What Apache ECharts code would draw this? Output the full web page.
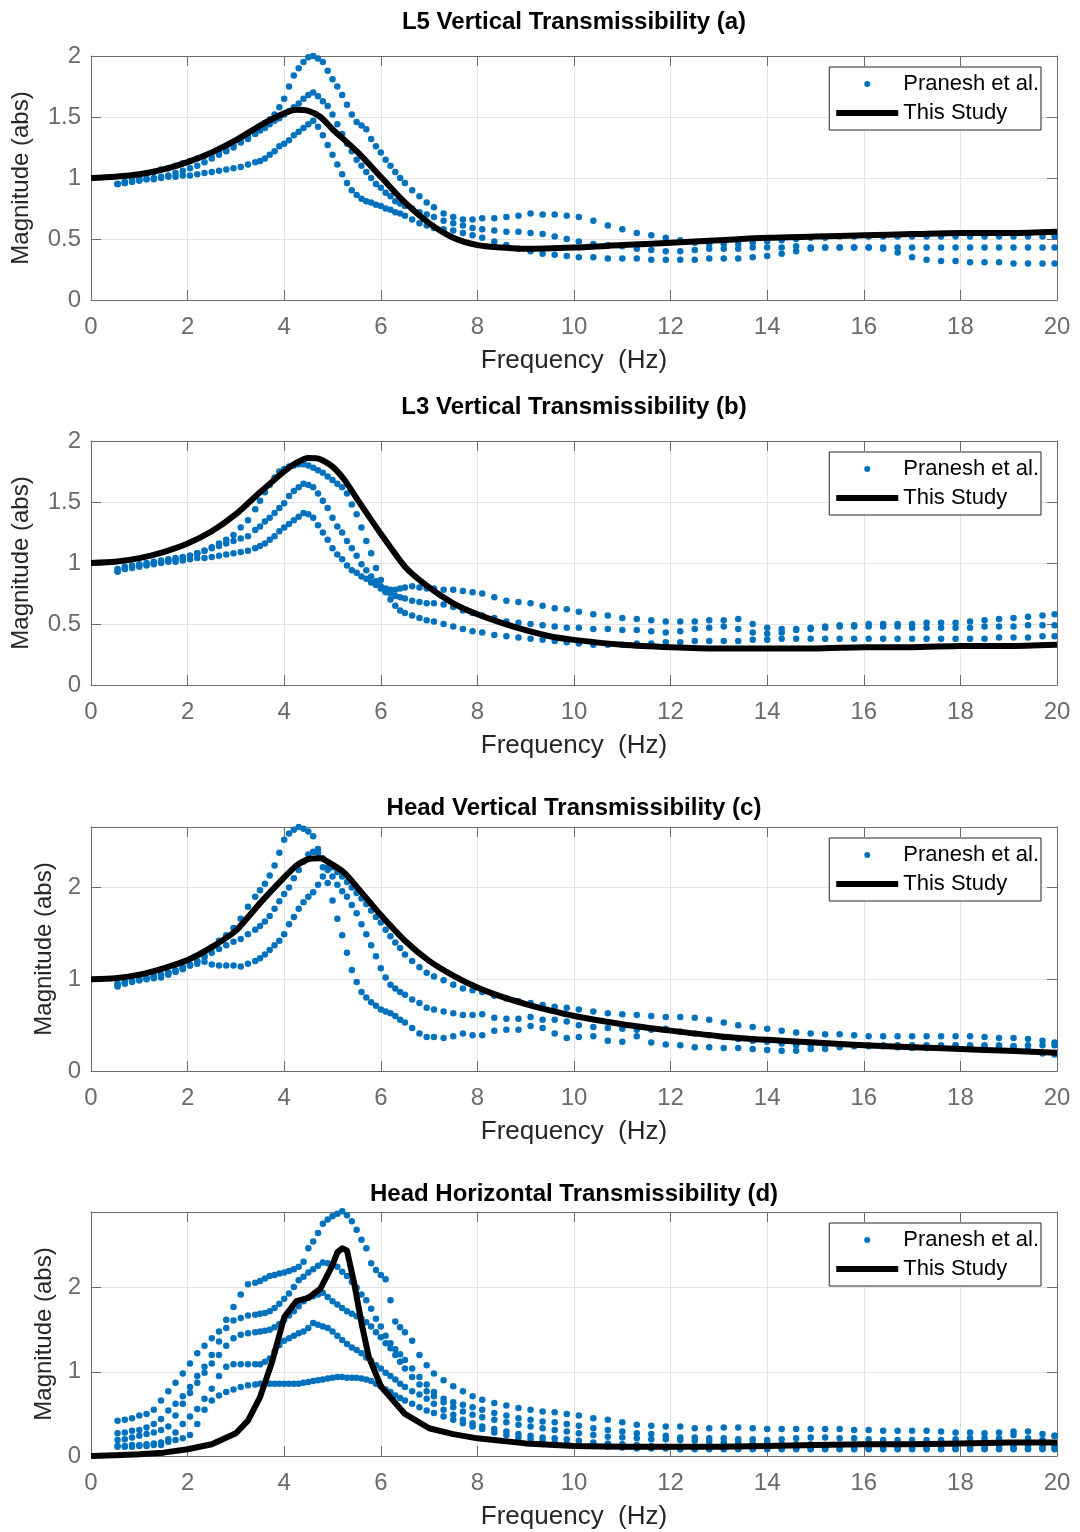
<!DOCTYPE html>
<html>
<head>
<meta charset="utf-8">
<title>Transmissibility comparison</title>
<script src="https://cdn.jsdelivr.net/npm/echarts@6.0.0/dist/echarts.min.js"></script>
<style>
  html, body { margin: 0; padding: 0; background: #fff; }
  #chart { width: 1080px; height: 1532px; }
</style>
</head>
<body>
<div id="chart"></div>
<script>
// digitised frequency grid (Hz) shared by the Pranesh et al. dot curves
const freq = [
  0.55, 0.7, 0.85, 1.0, 1.15, 1.3, 1.45, 1.6, 1.75, 1.9,
  2.05, 2.2, 2.35, 2.5, 2.65, 2.8, 2.95, 3.1, 3.25, 3.4,
  3.5, 3.6, 3.7, 3.8, 3.9, 4.0, 4.1, 4.2, 4.3, 4.4,
  4.5, 4.6, 4.7, 4.8, 4.9, 5.0, 5.1, 5.2, 5.3, 5.4,
  5.5, 5.6, 5.7, 5.8, 5.9, 6.0, 6.1, 6.2, 6.3, 6.4,
  6.5, 6.65, 6.8, 6.95, 7.1, 7.3, 7.5, 7.7, 7.9, 8.1,
  8.35, 8.6, 8.85, 9.1, 9.35, 9.6, 9.85, 10.1, 10.4, 10.7,
  11.0, 11.3, 11.6, 11.9, 12.2, 12.5, 12.8, 13.1, 13.4, 13.7,
  14.0, 14.3, 14.6, 14.9, 15.2, 15.5, 15.8, 16.1, 16.4, 16.7,
  17.0, 17.3, 17.6, 17.9, 18.2, 18.5, 18.8, 19.1, 19.4, 19.7,
  19.95
];

// (a) L5 vertical - Pranesh et al.
const a1 = [
  0.95, 0.97, 0.99, 1.01, 1.03, 1.05, 1.07, 1.08, 1.10, 1.12,
  1.14, 1.16, 1.18, 1.20, 1.22, 1.24, 1.27, 1.30, 1.34, 1.38,
  1.41, 1.45, 1.48, 1.52, 1.58, 1.65, 1.75, 1.84, 1.90, 1.95,
  1.99, 2.00, 1.98, 1.95, 1.88, 1.81, 1.75, 1.68, 1.60, 1.52,
  1.46, 1.43, 1.40, 1.32, 1.26, 1.21, 1.15, 1.10, 1.05, 1.00,
  0.96, 0.90, 0.85, 0.80, 0.76, 0.71, 0.68, 0.66, 0.66, 0.67,
  0.67, 0.68, 0.69, 0.71, 0.70, 0.70, 0.69, 0.68, 0.65, 0.61,
  0.58, 0.55, 0.53, 0.51, 0.49, 0.47, 0.46, 0.46, 0.46, 0.47,
  0.48, 0.49, 0.50, 0.51, 0.51, 0.52, 0.52, 0.52, 0.52, 0.52,
  0.52, 0.52, 0.52, 0.52, 0.52, 0.52, 0.52, 0.52, 0.52, 0.52,
  0.52
];
const a2 = [
  0.95, 0.96, 0.97, 0.98, 0.99, 1.00, 1.01, 1.02, 1.04, 1.06,
  1.08, 1.10, 1.13, 1.16, 1.19, 1.22, 1.25, 1.29, 1.32, 1.36,
  1.39, 1.41, 1.44, 1.47, 1.49, 1.52, 1.55, 1.58, 1.61, 1.65,
  1.68, 1.70, 1.67, 1.63, 1.59, 1.52, 1.44, 1.36, 1.28, 1.22,
  1.15, 1.10, 1.05, 1.00, 0.95, 0.92, 0.88, 0.85, 0.81, 0.79,
  0.77, 0.75, 0.72, 0.70, 0.68, 0.65, 0.63, 0.61, 0.59, 0.58,
  0.57, 0.56, 0.56, 0.55, 0.54, 0.52, 0.50, 0.48, 0.46, 0.45,
  0.44, 0.42, 0.41, 0.40, 0.40, 0.41, 0.42, 0.42, 0.42, 0.43,
  0.43, 0.43, 0.44, 0.43, 0.43, 0.43, 0.43, 0.43, 0.43, 0.43,
  0.43, 0.43, 0.43, 0.43, 0.43, 0.43, 0.43, 0.43, 0.43, 0.43,
  0.43
];
const a3 = [
  0.95, 0.96, 0.97, 0.98, 0.99, 0.99, 1.00, 1.01, 1.01, 1.02,
  1.02, 1.03, 1.04, 1.05, 1.06, 1.07, 1.08, 1.09, 1.11, 1.13,
  1.14, 1.16, 1.19, 1.22, 1.26, 1.28, 1.31, 1.35, 1.38, 1.41,
  1.44, 1.47, 1.42, 1.35, 1.27, 1.19, 1.11, 1.03, 0.96, 0.90,
  0.86, 0.83, 0.81, 0.80, 0.78, 0.77, 0.75, 0.74, 0.72, 0.71,
  0.69, 0.66, 0.63, 0.61, 0.59, 0.58, 0.57, 0.55, 0.53, 0.51,
  0.48, 0.45, 0.42, 0.40, 0.38, 0.37, 0.36, 0.35, 0.35, 0.34,
  0.34, 0.34, 0.33, 0.33, 0.33, 0.33, 0.34, 0.34, 0.34, 0.35,
  0.36, 0.38, 0.40, 0.42, 0.43, 0.43, 0.43, 0.43, 0.42, 0.39,
  0.35, 0.33, 0.32, 0.32, 0.31, 0.31, 0.31, 0.30, 0.30, 0.30,
  0.30
];

// (b) L3 vertical - Pranesh et al.
const b1 = [
  0.93, 0.95, 0.97, 0.98, 0.99, 1.00, 1.01, 1.02, 1.03, 1.04,
  1.06, 1.08, 1.10, 1.13, 1.16, 1.19, 1.23, 1.29, 1.35, 1.44,
  1.51, 1.58, 1.64, 1.70, 1.75, 1.77, 1.79, 1.80, 1.81, 1.81,
  1.80, 1.78, 1.76, 1.74, 1.71, 1.68, 1.65, 1.62, 1.57, 1.48,
  1.40, 1.29, 1.18, 1.08, 0.96, 0.86, 0.76, 0.70, 0.65, 0.61,
  0.59, 0.57, 0.55, 0.53, 0.52, 0.50, 0.48, 0.46, 0.44, 0.43,
  0.41, 0.40, 0.39, 0.38, 0.37, 0.36, 0.35, 0.34, 0.33, 0.33,
  0.33, 0.34, 0.34, 0.35, 0.35, 0.36, 0.36, 0.36, 0.36, 0.37,
  0.37, 0.38, 0.38, 0.38, 0.38, 0.38, 0.38, 0.38, 0.38, 0.38,
  0.38, 0.38, 0.38, 0.38, 0.38, 0.38, 0.39, 0.39, 0.39, 0.40,
  0.40
];
const b2 = [
  0.95, 0.97, 0.98, 0.99, 1.00, 1.01, 1.02, 1.03, 1.04, 1.05,
  1.06, 1.08, 1.10, 1.12, 1.14, 1.16, 1.18, 1.20, 1.22, 1.27,
  1.30, 1.34, 1.37, 1.41, 1.45, 1.49, 1.55, 1.59, 1.62, 1.65,
  1.64, 1.62, 1.57, 1.51, 1.45, 1.37, 1.30, 1.25, 1.18, 1.12,
  1.06, 0.99, 0.94, 0.89, 0.85, 0.81, 0.79, 0.78, 0.78, 0.79,
  0.80, 0.81, 0.80, 0.79, 0.79, 0.78, 0.78, 0.77, 0.76, 0.75,
  0.72, 0.69, 0.68, 0.67, 0.65, 0.63, 0.62, 0.60, 0.58, 0.57,
  0.55, 0.54, 0.53, 0.52, 0.52, 0.52, 0.53, 0.53, 0.54, 0.50,
  0.47, 0.46, 0.46, 0.47, 0.48, 0.49, 0.49, 0.50, 0.50, 0.50,
  0.50, 0.51, 0.51, 0.51, 0.52, 0.53, 0.54, 0.55, 0.56, 0.57,
  0.58
];
const b3 = [
  0.93, 0.95, 0.96, 0.97, 0.98, 0.99, 1.00, 1.01, 1.01, 1.02,
  1.03, 1.04, 1.04, 1.05, 1.06, 1.07, 1.08, 1.09, 1.10, 1.12,
  1.14, 1.16, 1.19, 1.22, 1.26, 1.29, 1.32, 1.35, 1.38, 1.41,
  1.40, 1.37, 1.31, 1.25, 1.19, 1.12, 1.07, 1.03, 0.98, 0.94,
  0.92, 0.89, 0.87, 0.84, 0.82, 0.79, 0.77, 0.75, 0.73, 0.72,
  0.71, 0.69, 0.68, 0.67, 0.67, 0.66, 0.64, 0.61, 0.59, 0.57,
  0.55, 0.52, 0.51, 0.50, 0.49, 0.48, 0.47, 0.47, 0.46, 0.46,
  0.45, 0.45, 0.44, 0.43, 0.44, 0.46, 0.47, 0.48, 0.46, 0.43,
  0.42, 0.43, 0.45, 0.46, 0.47, 0.48, 0.48, 0.48, 0.48, 0.48,
  0.47, 0.47, 0.47, 0.47, 0.47, 0.48, 0.48, 0.48, 0.49, 0.49,
  0.49
];

// (c) head vertical - Pranesh et al.
const c1 = [
  0.92, 0.95, 0.98, 0.99, 1.00, 1.01, 1.02, 1.05, 1.08, 1.11,
  1.15, 1.20, 1.26, 1.35, 1.42, 1.48, 1.56, 1.66, 1.79, 1.90,
  1.97, 2.04, 2.13, 2.24, 2.38, 2.52, 2.59, 2.63, 2.66, 2.64,
  2.61, 2.56, 2.42, 2.22, 2.05, 1.86, 1.66, 1.48, 1.29, 1.10,
  0.97, 0.86, 0.80, 0.75, 0.71, 0.67, 0.65, 0.63, 0.60, 0.56,
  0.53, 0.47, 0.41, 0.37, 0.37, 0.36, 0.38, 0.41, 0.39, 0.39,
  0.44, 0.45, 0.45, 0.49, 0.47, 0.41, 0.36, 0.37, 0.38, 0.33,
  0.32, 0.38, 0.31, 0.29, 0.28, 0.26, 0.26, 0.25, 0.25, 0.24,
  0.23, 0.22, 0.22, 0.24, 0.24, 0.26, 0.27, 0.27, 0.27, 0.26,
  0.25, 0.25, 0.26, 0.28, 0.28, 0.28, 0.28, 0.27, 0.23, 0.19,
  0.18
];
const c2 = [
  0.94, 0.96, 0.97, 0.99, 1.01, 1.03, 1.05, 1.07, 1.10, 1.13,
  1.16, 1.19, 1.24, 1.29, 1.33, 1.37, 1.41, 1.44, 1.49, 1.54,
  1.58, 1.63, 1.69, 1.77, 1.85, 1.93, 2.00, 2.10, 2.19, 2.28,
  2.36, 2.39, 2.38, 2.32, 2.22, 2.12, 2.03, 1.96, 1.90, 1.81,
  1.72, 1.60, 1.49, 1.37, 1.25, 1.12, 1.02, 0.94, 0.90, 0.86,
  0.83, 0.78, 0.74, 0.69, 0.67, 0.65, 0.63, 0.61, 0.61, 0.62,
  0.58, 0.57, 0.57, 0.59, 0.56, 0.56, 0.54, 0.50, 0.48, 0.47,
  0.46, 0.45, 0.45, 0.46, 0.43, 0.41, 0.39, 0.37, 0.35, 0.33,
  0.32, 0.30, 0.28, 0.28, 0.28, 0.28, 0.28, 0.28, 0.28, 0.28,
  0.28, 0.28, 0.28, 0.28, 0.27, 0.27, 0.27, 0.27, 0.28, 0.28,
  0.28
];
const c3 = [
  0.95, 0.97, 0.98, 1.00, 1.01, 1.03, 1.05, 1.07, 1.09, 1.12,
  1.15, 1.17, 1.19, 1.16, 1.15, 1.15, 1.15, 1.14, 1.17, 1.20,
  1.23, 1.27, 1.32, 1.37, 1.42, 1.49, 1.60, 1.68, 1.77, 1.84,
  1.90, 1.95, 2.03, 2.12, 2.19, 2.22, 2.17, 2.12, 2.06, 2.00,
  1.94, 1.88, 1.82, 1.75, 1.68, 1.62, 1.54, 1.47, 1.40, 1.34,
  1.27, 1.20, 1.13, 1.07, 1.03, 0.99, 0.94, 0.90, 0.88, 0.86,
  0.82, 0.79, 0.76, 0.74, 0.72, 0.70, 0.69, 0.67, 0.65, 0.63,
  0.62, 0.61, 0.60, 0.59, 0.59, 0.58, 0.56, 0.53, 0.50, 0.48,
  0.46, 0.44, 0.42, 0.41, 0.40, 0.40, 0.39, 0.38, 0.38, 0.38,
  0.38, 0.38, 0.38, 0.38, 0.38, 0.37, 0.36, 0.36, 0.35, 0.33,
  0.31
];

// (d) head horizontal - Pranesh et al.
const d1 = [
  0.42, 0.43, 0.45, 0.48, 0.50, 0.55, 0.66, 0.77, 0.87, 0.98,
  1.10, 1.22, 1.31, 1.40, 1.48, 1.62, 1.77, 1.92, 2.04, 2.06,
  2.08, 2.11, 2.14, 2.15, 2.17, 2.18, 2.20, 2.22, 2.25, 2.31,
  2.47, 2.55, 2.65, 2.76, 2.81, 2.85, 2.88, 2.91, 2.86, 2.79,
  2.69, 2.57, 2.47, 2.29, 2.21, 2.15, 2.10, 1.85, 1.60, 1.53,
  1.47, 1.37, 1.20, 1.08, 0.98, 0.90, 0.83, 0.77, 0.71, 0.67,
  0.63, 0.60, 0.57, 0.55, 0.53, 0.52, 0.50, 0.48, 0.45, 0.43,
  0.40, 0.37, 0.36, 0.35, 0.35, 0.33, 0.33, 0.34, 0.34, 0.33,
  0.32, 0.32, 0.32, 0.32, 0.32, 0.32, 0.31, 0.31, 0.30, 0.30,
  0.30, 0.30, 0.29, 0.28, 0.28, 0.27, 0.28, 0.29, 0.29, 0.26,
  0.24
];
const d2 = [
  0.27, 0.28, 0.30, 0.31, 0.34, 0.38, 0.44, 0.54, 0.62, 0.71,
  0.82, 0.95, 1.06, 1.20, 1.36, 1.52, 1.61, 1.64, 1.67, 1.68,
  1.69, 1.70, 1.72, 1.76, 1.81, 1.87, 1.93, 2.01, 2.09, 2.13,
  2.18, 2.22, 2.26, 2.30, 2.29, 2.27, 2.25, 2.19, 2.14, 2.07,
  2.00, 1.92, 1.85, 1.75, 1.63, 1.54, 1.43, 1.34, 1.27, 1.21,
  1.14, 1.04, 0.94, 0.85, 0.76, 0.68, 0.64, 0.61, 0.58, 0.55,
  0.51, 0.48, 0.45, 0.43, 0.41, 0.40, 0.38, 0.36, 0.33, 0.31,
  0.29, 0.27, 0.26, 0.24, 0.22, 0.22, 0.21, 0.21, 0.20, 0.20,
  0.19, 0.20, 0.21, 0.22, 0.22, 0.21, 0.21, 0.20, 0.19, 0.19,
  0.19, 0.19, 0.19, 0.20, 0.21, 0.21, 0.21, 0.25, 0.21, 0.19,
  0.24
];
const d3 = [
  0.19, 0.20, 0.22, 0.24, 0.26, 0.28, 0.31, 0.35, 0.48, 0.62,
  0.75, 0.87, 0.99, 1.10, 1.20, 1.31, 1.40, 1.44, 1.46, 1.47,
  1.48, 1.49, 1.50, 1.53, 1.57, 1.62, 1.67, 1.72, 1.78, 1.84,
  1.88, 1.90, 1.92, 1.94, 1.89, 1.84, 1.80, 1.76, 1.72, 1.69,
  1.66, 1.63, 1.59, 1.54, 1.47, 1.41, 1.34, 1.28, 1.20, 1.12,
  1.04, 0.94, 0.85, 0.77, 0.71, 0.64, 0.58, 0.53, 0.49, 0.46,
  0.43, 0.40, 0.37, 0.35, 0.33, 0.31, 0.29, 0.27, 0.25, 0.23,
  0.22, 0.21, 0.20, 0.20, 0.19, 0.18, 0.17, 0.16, 0.16, 0.15,
  0.15, 0.14, 0.14, 0.14, 0.13, 0.13, 0.13, 0.13, 0.13, 0.12,
  0.12, 0.12, 0.12, 0.12, 0.12, 0.12, 0.12, 0.12, 0.12, 0.12,
  0.12
];
const d4 = [
  0.12, 0.12, 0.13, 0.13, 0.14, 0.15, 0.16, 0.20, 0.28, 0.38,
  0.47, 0.56, 0.68, 0.80, 0.95, 1.06, 1.09, 1.09, 1.09, 1.09,
  1.09, 1.12, 1.16, 1.24, 1.32, 1.37, 1.40, 1.43, 1.46, 1.48,
  1.52, 1.58, 1.56, 1.54, 1.52, 1.48, 1.43, 1.38, 1.33, 1.29,
  1.26, 1.22, 1.17, 1.13, 1.08, 1.04, 0.99, 0.95, 0.91, 0.86,
  0.82, 0.77, 0.73, 0.68, 0.62, 0.55, 0.49, 0.43, 0.39, 0.35,
  0.32, 0.29, 0.26, 0.24, 0.22, 0.21, 0.20, 0.18, 0.16, 0.15,
  0.14, 0.13, 0.12, 0.11, 0.11, 0.10, 0.10, 0.10, 0.09, 0.09,
  0.09, 0.09, 0.09, 0.09, 0.09, 0.09, 0.09, 0.09, 0.09, 0.09,
  0.09, 0.09, 0.09, 0.09, 0.09, 0.09, 0.09, 0.09, 0.09, 0.09,
  0.09
];
const d5 = [
  0.11, 0.11, 0.11, 0.12, 0.12, 0.13, 0.13, 0.17, 0.19, 0.21,
  0.25, 0.38, 0.55, 0.66, 0.72, 0.76, 0.79, 0.82, 0.84, 0.85,
  0.86, 0.86, 0.86, 0.86, 0.86, 0.86, 0.86, 0.86, 0.86, 0.87,
  0.88, 0.89, 0.90, 0.91, 0.92, 0.93, 0.94, 0.94, 0.93, 0.93,
  0.93, 0.92, 0.91, 0.89, 0.86, 0.83, 0.79, 0.76, 0.72, 0.69,
  0.66, 0.62, 0.58, 0.54, 0.51, 0.47, 0.43, 0.39, 0.35, 0.32,
  0.28, 0.25, 0.22, 0.20, 0.18, 0.16, 0.14, 0.13, 0.12, 0.11,
  0.10, 0.09, 0.09, 0.09, 0.08, 0.08, 0.08, 0.08, 0.08, 0.08,
  0.08, 0.08, 0.08, 0.08, 0.08, 0.08, 0.08, 0.08, 0.08, 0.08,
  0.08, 0.08, 0.08, 0.08, 0.08, 0.08, 0.08, 0.08, 0.08, 0.08,
  0.08
];

// This Study model curves
const lineFreqA = [0, 0.5, 1, 1.5, 2, 2.5, 3, 3.5, 4, 4.25, 4.5, 4.75, 5, 5.5, 6, 6.5, 7, 7.5, 8, 8.5, 9, 10, 11, 12, 13, 14, 15, 16, 17, 18, 19, 20];
const lineA = [1.00, 1.01, 1.03, 1.07, 1.13, 1.21, 1.31, 1.43, 1.53, 1.56, 1.55, 1.50, 1.40, 1.22, 1.01, 0.80, 0.63, 0.51, 0.45, 0.43, 0.42, 0.43, 0.45, 0.47, 0.49, 0.51, 0.52, 0.53, 0.54, 0.55, 0.55, 0.56];
const lineFreqB = [0, 0.5, 1, 1.5, 2, 2.5, 3, 3.5, 4, 4.25, 4.5, 4.75, 5, 5.25, 5.5, 6, 6.5, 7, 7.5, 8, 8.5, 9, 9.5, 10, 11, 12, 13, 14, 15, 16, 17, 18, 19, 20];
const lineB = [1.00, 1.01, 1.04, 1.09, 1.16, 1.26, 1.40, 1.58, 1.75, 1.82, 1.86, 1.85, 1.79, 1.68, 1.53, 1.24, 0.97, 0.80, 0.67, 0.58, 0.51, 0.45, 0.40, 0.37, 0.33, 0.31, 0.30, 0.30, 0.30, 0.31, 0.31, 0.32, 0.32, 0.33];
const lineFreqC = [0, 0.5, 1, 1.5, 2, 2.5, 3, 3.5, 4, 4.25, 4.5, 4.75, 5, 5.25, 5.5, 6, 6.5, 7, 7.5, 8, 8.5, 9, 9.5, 10, 11, 12, 13, 14, 15, 16, 17, 18, 19, 20];
const lineC = [1.00, 1.01, 1.05, 1.12, 1.21, 1.35, 1.53, 1.83, 2.11, 2.24, 2.31, 2.32, 2.25, 2.16, 2.01, 1.70, 1.42, 1.20, 1.04, 0.91, 0.81, 0.73, 0.66, 0.60, 0.51, 0.44, 0.38, 0.34, 0.31, 0.28, 0.26, 0.24, 0.22, 0.20];
const lineFreqD = [0, 0.5, 1, 1.5, 2, 2.5, 3, 3.25, 3.5, 3.75, 4, 4.25, 4.5, 4.75, 5, 5.1, 5.2, 5.3, 5.45, 5.6, 5.75, 6, 6.5, 7, 7.5, 8, 9, 10, 11, 12, 13, 14, 15, 16, 17, 18, 19, 20];
const lineD = [0.00, 0.01, 0.02, 0.04, 0.08, 0.14, 0.27, 0.42, 0.70, 1.12, 1.65, 1.84, 1.88, 1.99, 2.27, 2.42, 2.47, 2.44, 2.05, 1.58, 1.18, 0.83, 0.50, 0.33, 0.26, 0.21, 0.15, 0.12, 0.11, 0.11, 0.11, 0.12, 0.13, 0.14, 0.14, 0.15, 0.16, 0.16];

const FONT = '"Liberation Sans", Arial, Helvetica, sans-serif';
const AXIS_GRAY = '#6b6b6b';
const DOT_BLUE = '#0072BD';

const panels = [
  { title: 'L5 Vertical Transmissibility (a)', titleY: 22, top: 56, yMax: 2, yStep: 0.5, yNameGap: 58,
    dots: [a1, a2, a3], lineF: lineFreqA, lineV: lineA, smooth: 0.3 },
  { title: 'L3 Vertical Transmissibility (b)', titleY: 407, top: 441, yMax: 2, yStep: 0.5, yNameGap: 58,
    dots: [b1, b2, b3], lineF: lineFreqB, lineV: lineB, smooth: 0.2 },
  { title: 'Head Vertical Transmissibility (c)', titleY: 808, top: 827, yMax: 2.66, yStep: 1, yNameGap: 35,
    dots: [c1, c2, c3], lineF: lineFreqC, lineV: lineC, smooth: 0.2 },
  { title: 'Head Horizontal Transmissibility (d)', titleY: 1194, top: 1212, yMax: 2.9, yStep: 1, yNameGap: 35,
    dots: [d1, d2, d3, d4, d5], lineF: lineFreqD, lineV: lineD, smooth: false }
];

const chart = echarts.init(document.getElementById('chart'), null, { renderer: 'canvas' });

const option = {
  animation: false,
  backgroundColor: '#ffffff',
  textStyle: { fontFamily: FONT },
  grid: [], xAxis: [], yAxis: [], series: [], legend: [], graphic: []
};

const edge = { show: true, onZero: false, lineStyle: { color: AXIS_GRAY, width: 1 } };
const innerTick = { show: true, inside: true, length: 10, lineStyle: { color: AXIS_GRAY, width: 1 } };
const gridLine = { show: true, lineStyle: { color: '#e3e3e3', width: 1 } };

panels.forEach((p, i) => {
  option.grid.push({ left: 91, right: 23, top: p.top, height: 244, containLabel: false, outerBoundsMode: 'none' });

  // bottom + top x axes (box with mirrored ticks)
  option.xAxis.push({
    gridIndex: i, type: 'value', min: 0, max: 20, interval: 2,
    name: 'Frequency  (Hz)', nameLocation: 'middle', nameGap: 48,
    nameTextStyle: { fontSize: 26, color: '#262626' },
    axisLine: edge, axisTick: innerTick, splitLine: gridLine,
    axisLabel: { show: true, fontSize: 24, color: AXIS_GRAY, margin: 15 }
  });
  option.xAxis.push({
    gridIndex: i, type: 'value', position: 'top', min: 0, max: 20, interval: 2,
    axisLine: edge, axisTick: innerTick, axisLabel: { show: false }, splitLine: { show: false }
  });

  // left + right y axes
  option.yAxis.push({
    gridIndex: i, type: 'value', min: 0, max: p.yMax, interval: p.yStep,
    name: 'Magnitude (abs)', nameLocation: 'middle', nameGap: p.yNameGap,
    nameTextStyle: { fontSize: 24, color: '#262626' },
    axisLine: edge, axisTick: innerTick, splitLine: gridLine,
    axisLabel: {
      show: true, fontSize: 24, color: AXIS_GRAY, margin: 10,
      formatter: v => (Math.abs(v / p.yStep - Math.round(v / p.yStep)) < 1e-6 ? String(+v.toFixed(2)) : '')
    }
  });
  option.yAxis.push({
    gridIndex: i, type: 'value', position: 'right', min: 0, max: p.yMax, interval: p.yStep,
    axisLine: edge, axisTick: innerTick, axisLabel: { show: false }, splitLine: { show: false }
  });

  const pts = [];
  p.dots.forEach(curve => curve.forEach((v, k) => pts.push([freq[k], v])));

  option.series.push({
    name: 'Pranesh et al.', type: 'scatter', xAxisIndex: 2 * i, yAxisIndex: 2 * i,
    data: pts, symbol: 'circle', symbolSize: 6.5, clip: false, z: 2,
    itemStyle: { color: DOT_BLUE, opacity: 1 }, emphasis: { disabled: true }, silent: true
  });
  option.series.push({
    name: 'This Study', type: 'line', xAxisIndex: 2 * i, yAxisIndex: 2 * i,
    data: p.lineF.map((f, k) => [f, p.lineV[k]]), symbol: 'none', showSymbol: false,
    smooth: p.smooth, z: 3, clip: true,
    lineStyle: { color: '#000000', width: 6, join: 'round' },
    itemStyle: { color: '#000000' }, emphasis: { disabled: true }, silent: true
  });

  option.legend.push({
    data: [
      { name: 'Pranesh et al.', icon: 'circle' },
      { name: 'This Study', icon: 'rect' }
    ],
    orient: 'vertical',
    right: 39, top: p.top + 11,
    itemWidth: 62, itemHeight: 6, itemGap: 7, padding: [6, 2, 6, 7],
    borderColor: '#262626', borderWidth: 1, borderRadius: 0, backgroundColor: '#ffffff',
    textStyle: { fontSize: 22, color: '#000000', fontFamily: FONT },
    selectedMode: false
  });

  option.graphic.push({
    type: 'text', x: 574, y: p.titleY, silent: true,
    style: {
      text: p.title, fill: '#000000', fontSize: 24, fontWeight: 'bold', fontFamily: FONT,
      align: 'center', verticalAlign: 'middle', textAlign: 'center', textVerticalAlign: 'middle'
    }
  });
});

chart.setOption(option);
</script>
</body>
</html>
